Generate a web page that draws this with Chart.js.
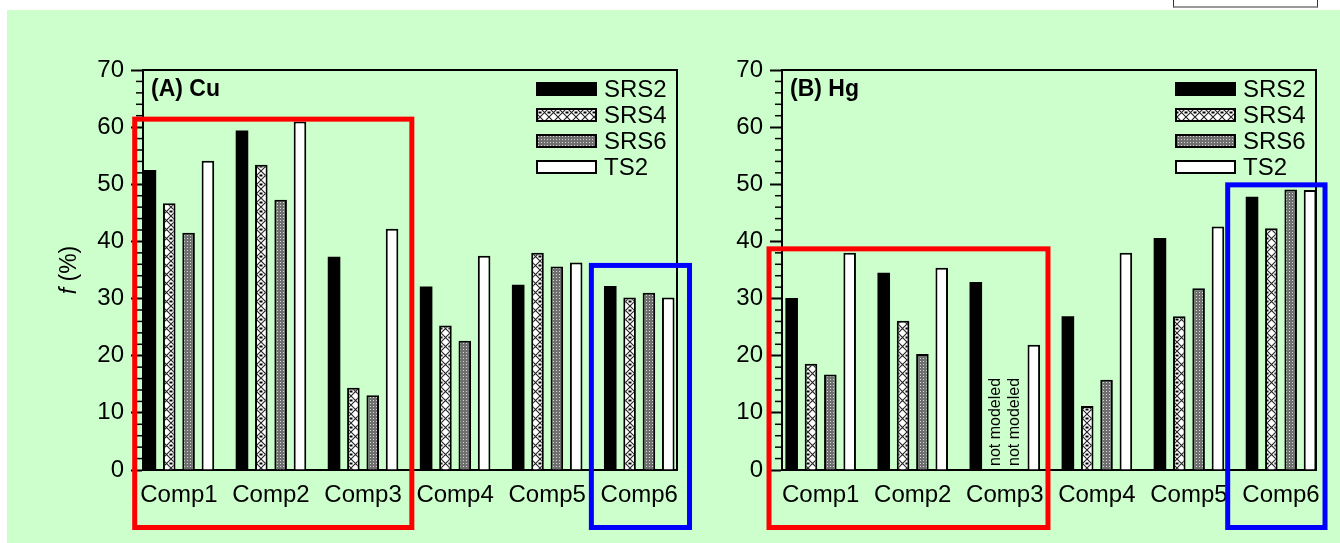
<!DOCTYPE html>
<html>
<head>
<meta charset="utf-8">
<script src="https://cdn.jsdelivr.net/npm/chart.js@4.4.0/dist/chart.umd.min.js"></script>
<style>
  html, body { margin: 0; padding: 0; background: #fff; }
  body { width: 1340px; height: 543px; position: relative; overflow: hidden; }
  #bg { position: absolute; left: 7px; top: 10px; right: 0; bottom: 0; background: #ccffcc; }
  #tab { position: absolute; left: 1173px; top: -2px; width: 143px; height: 7px; background: #fff;
         border: 1px solid #333; border-bottom: 2px solid #999; }
  canvas { position: absolute; top: 0; }
  #cu { left: 0; }
  #hg { left: 700px; }
</style>
</head>
<body>
<div id="bg"></div>
<div id="tab"></div>
<canvas id="cu" width="700" height="543"></canvas>
<canvas id="hg" width="640" height="543"></canvas>
<script>
// values (f in %)
const categories = ['Comp1', 'Comp2', 'Comp3', 'Comp4', 'Comp5', 'Comp6'];
const seriesNames = ['SRS2', 'SRS4', 'SRS6', 'TS2'];

const cuSRS2 = [52.5, 59.4, 37.3, 32.1, 32.4, 32.2];
const cuSRS4 = [46.7, 53.4, 14.4, 25.3, 38.0, 30.2];
const cuSRS6 = [41.5, 47.3, 13.1, 22.6, 35.6, 31.0];
const cuTS2  = [54.1, 61.0, 42.2, 37.5, 36.3, 30.2];

const hgSRS2 = [30.1, 34.5, 32.9, 26.9, 40.6, 47.8];
const hgSRS4 = [18.6, 26.1, null, 11.2, 26.9, 42.3];  // Comp3: not modeled
const hgSRS6 = [16.7, 20.3, null, 15.8, 31.8, 49.1];  // Comp3: not modeled
const hgTS2  = [38.0, 35.4, 21.9, 38.0, 42.6, 49.0];

const yMin = 0, yMax = 70, yStep = 10, yMinorStep = 2;

const FONT = '"Liberation Sans", Arial, Helvetica, sans-serif';

function makeFills(ctx) {
  // cross hatch for SRS4
  const t1 = document.createElement('canvas');
  t1.width = 9; t1.height = 9;
  const g1 = t1.getContext('2d');
  g1.fillStyle = '#fff'; g1.fillRect(0, 0, 9, 9);
  g1.strokeStyle = '#222'; g1.lineWidth = 1.1;
  g1.beginPath();
  g1.moveTo(0, 0); g1.lineTo(9, 9);
  g1.moveTo(9, 0); g1.lineTo(0, 9);
  g1.stroke();
  g1.fillStyle = '#000';
  g1.fillRect(0, 3.5, 1.5, 2); g1.fillRect(7.5, 3.5, 1.5, 2);

  // fine dotted grey for SRS6
  const t2 = document.createElement('canvas');
  t2.width = 3; t2.height = 3;
  const g2 = t2.getContext('2d');
  g2.fillStyle = '#6f6f6f'; g2.fillRect(0, 0, 3, 3);
  g2.fillStyle = '#d8d8d8'; g2.fillRect(1, 1, 1, 1);

  return ['#000', ctx.createPattern(t1, 'repeat'), ctx.createPattern(t2, 'repeat'), '#fff'];
}

const framePlugin = {
  id: 'frame',
  afterDatasetsDraw(chart) {
    const { ctx, chartArea: a, scales } = chart;
    ctx.save();
    ctx.strokeStyle = '#000';
    ctx.lineWidth = 2;
    ctx.beginPath();
    ctx.moveTo(a.left, a.top); ctx.lineTo(a.right, a.top); ctx.lineTo(a.right, a.bottom);
    ctx.stroke();
    // minor ticks on the y axis
    ctx.lineWidth = 1.5;
    for (let v = yMin; v <= yMax; v += yMinorStep) {
      if (v % yStep === 0) continue;
      const y = scales.y.getPixelForValue(v);
      ctx.beginPath(); ctx.moveTo(a.left - 7, y); ctx.lineTo(a.left, y); ctx.stroke();
    }
    ctx.restore();
  }
};

const legendPlugin = {
  id: 'boxLegend',
  afterDatasetsDraw(chart, args, opts) {
    const { ctx, chartArea: a } = chart;
    ctx.save();
    chart.data.datasets.forEach((ds, i) => {
      const y = a.top + 19 + 26 * i;
      const x0 = a.right - 140;
      ctx.fillStyle = ds.backgroundColor;
      ctx.fillRect(x0, y - 6, 59, 12);
      ctx.lineWidth = 2; ctx.strokeStyle = '#000';
      ctx.strokeRect(x0, y - 6, 59, 12);
      ctx.fillStyle = '#000';
      ctx.font = '24px ' + FONT;
      ctx.textBaseline = 'middle';
      ctx.textAlign = 'left';
      ctx.fillText(ds.label, a.right - 73, y + 1);
    });
    // panel tag
    ctx.font = 'bold 23px ' + FONT;
    ctx.fillText(opts.tag, a.left + 8, a.top + 20);
    ctx.restore();
  }
};

const notePlugin = {
  id: 'notModeled',
  afterDatasetsDraw(chart) {
    const { ctx, chartArea: a, scales } = chart;
    ctx.save();
    ctx.fillStyle = '#000';
    ctx.font = '16px ' + FONT;
    ctx.textAlign = 'left';
    ctx.textBaseline = 'middle';
    chart.data.datasets.forEach((ds, di) => {
      const meta = chart.getDatasetMeta(di);
      ds.data.forEach((p, i) => {
        if (p.y !== null) return;
        let x = meta.data[i] ? meta.data[i].x : NaN;
        if (isNaN(x)) x = scales.x.getPixelForValue(p.x);
        ctx.save();
        ctx.translate(x, a.bottom - 4);
        ctx.rotate(-Math.PI / 2);
        ctx.fillText('not modeled', 0, 0);
        ctx.restore();
      });
    });
    ctx.restore();
  }
};

const highlightPlugin = {
  id: 'highlight',
  afterDraw(chart, args, opts) {
    const { ctx, chartArea: a, scales } = chart;
    ctx.save();
    ctx.lineWidth = 5;
    (opts.boxes || []).forEach(b => {
      const l = scales.x.getPixelForValue(b.from);
      const r = scales.x.getPixelForValue(b.to);
      const t = scales.y.getPixelForValue(b.top);
      const btm = a.bottom + 57.5;
      ctx.strokeStyle = b.color;
      ctx.strokeRect(l, t, r - l, btm - t);
    });
    if (opts.yTitle) {
      ctx.fillStyle = '#000';
      ctx.textBaseline = 'middle';
      ctx.translate(a.left - 73, (a.top + a.bottom) / 2);
      ctx.rotate(-Math.PI / 2);
      ctx.font = 'italic 23px ' + FONT;
      const w1 = ctx.measureText('f').width;
      ctx.font = '23px ' + FONT;
      const w2 = ctx.measureText(' (%)').width;
      const x0 = -(w1 + w2) / 2;
      ctx.textAlign = 'left';
      ctx.font = 'italic 23px ' + FONT;
      ctx.fillText('f', x0, 0);
      ctx.font = '23px ' + FONT;
      ctx.fillText(' (%)', x0 + w1, 0);
    }
    ctx.restore();
  }
};

function makePanel(id, seriesValues, p) {
  const canvas = document.getElementById(id);
  const ctx = canvas.getContext('2d');
  const fills = makeFills(ctx);
  const datasets = seriesValues.map((vals, s) => ({
    label: seriesNames[s],
    data: vals.map((v, i) => ({ x: i, y: v })),
    backgroundColor: fills[s],
    borderColor: '#000',
    borderWidth: s === 0 ? 0 : 2,
    categoryPercentage: 0.84,
    barPercentage: 0.65
  }));

  return new Chart(ctx, {
    type: 'bar',
    data: { datasets },
    options: {
      responsive: false,
      animation: false,
      layout: { padding: { left: 0, top: 70, right: p.padRight, bottom: 0 } },
      plugins: {
        legend: { display: false },
        tooltip: { enabled: false },
        boxLegend: { tag: p.tag },
        highlight: { boxes: p.boxes, yTitle: p.yTitle }
      },
      scales: {
        x: {
          type: 'linear',
          min: p.xMin, max: p.xMax,
          offset: false,
          grid: { drawOnChartArea: false, drawTicks: false, offset: false },
          border: { display: true, color: '#000', width: 2 },
          afterBuildTicks: s => { s.ticks = categories.map((c, i) => ({ value: i })); },
          ticks: {
            callback: v => categories[v],
            color: '#000',
            font: { family: FONT, size: 24 },
            padding: 11,
            autoSkip: false,
            maxRotation: 0
          },
          afterFit: s => { s.height = 73; }
        },
        y: {
          min: yMin, max: yMax,
          ticks: { stepSize: yStep, color: '#000', font: { family: FONT, size: 24 }, padding: 7 },
          grid: { drawOnChartArea: false, drawTicks: true, tickLength: 12, tickWidth: 2, tickColor: '#000' },
          border: { display: true, color: '#000', width: 2 },
          afterFit: s => { s.width = p.yWidth; }
        }
      }
    },
    plugins: [framePlugin, legendPlugin, notePlugin, highlightPlugin]
  });
}

makePanel('cu', [cuSRS2, cuSRS4, cuSRS6, cuTS2], {
  tag: '(A) Cu',
  yWidth: 143, padRight: 23,
  xMin: -0.39, xMax: 5.41,
  yTitle: true,
  boxes: [
    { from: -0.48, to: 2.53, top: 61.4, color: '#ff0000' },
    { from: 4.48, to: 5.546, top: 35.8, color: '#0000ff' }
  ]
});

makePanel('hg', [hgSRS2, hgSRS4, hgSRS6, hgTS2], {
  tag: '(B) Hg',
  yWidth: 82, padRight: 24,
  xMin: -0.42, xMax: 5.38,
  yTitle: false,
  boxes: [
    { from: -0.561, to: 2.469, top: 38.7, color: '#ff0000' },
    { from: 4.421, to: 5.478, top: 49.9, color: '#0000ff' }
  ]
});
</script>
</body>
</html>
